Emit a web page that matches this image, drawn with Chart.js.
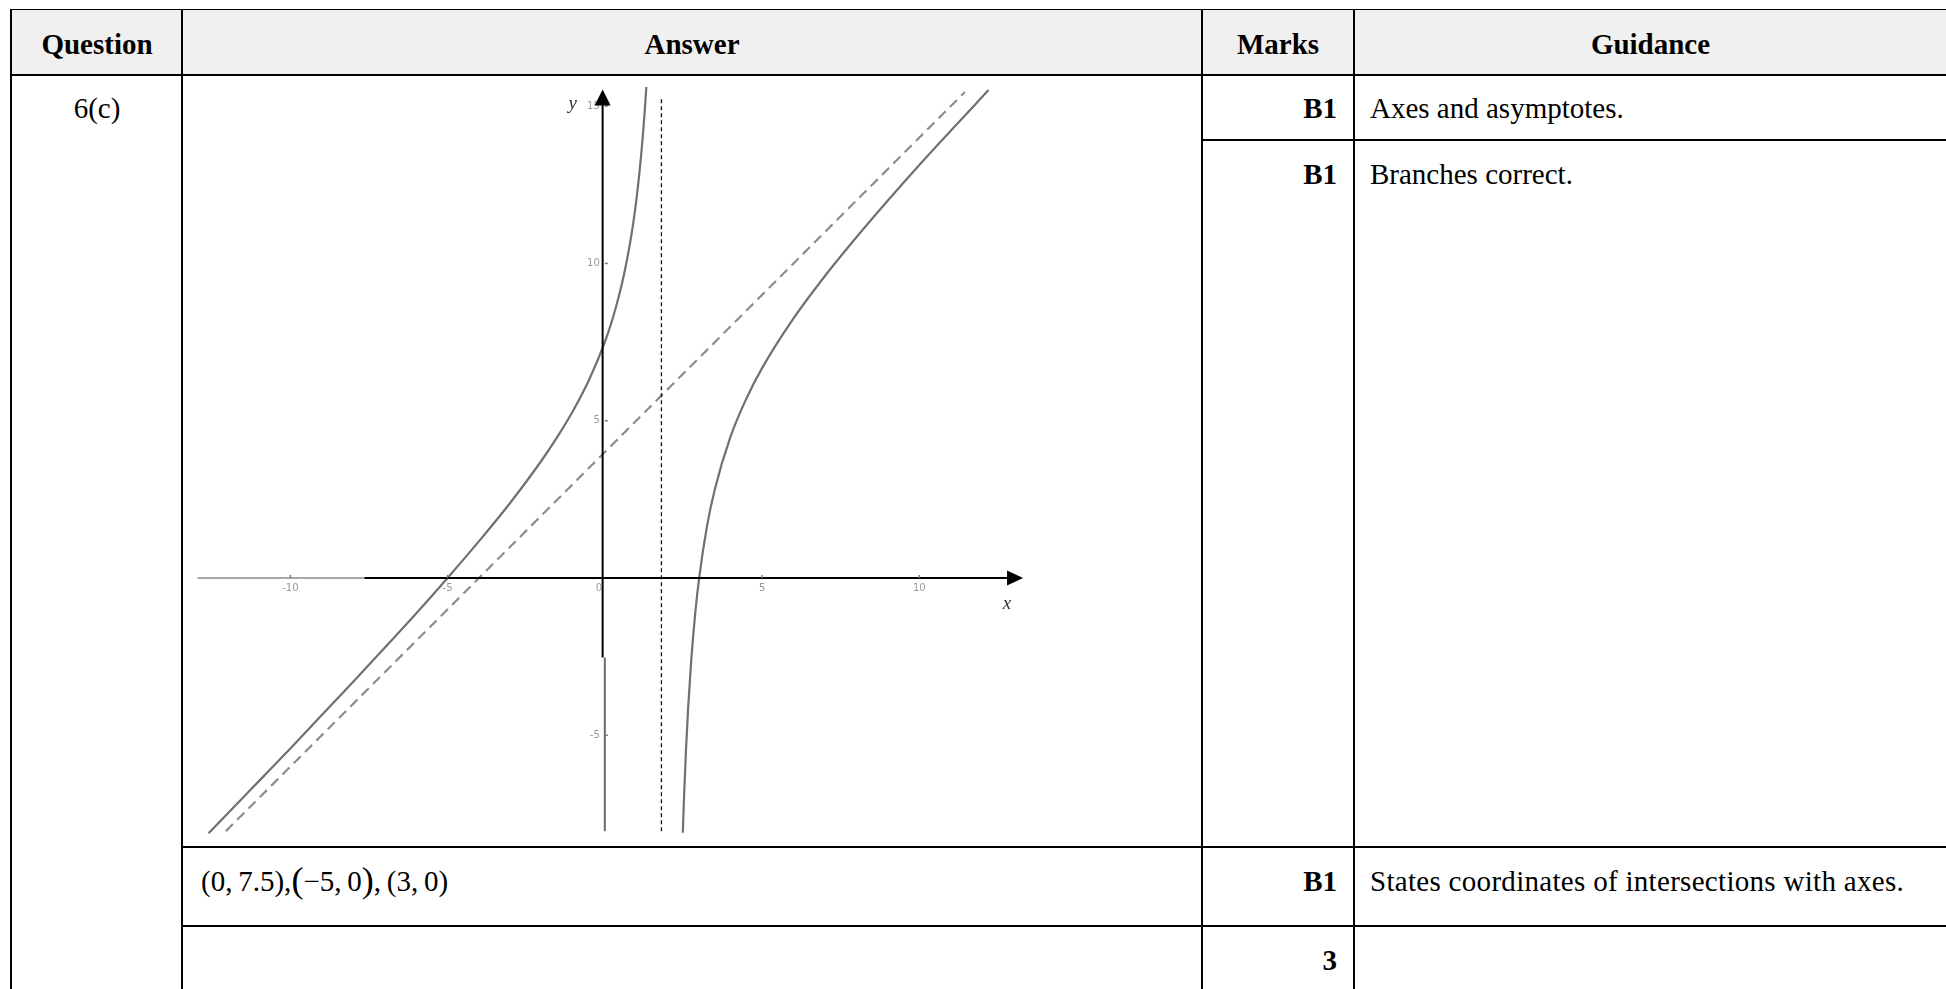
<!DOCTYPE html>
<html>
<head>
<meta charset="utf-8">
<script src="https://cdn.jsdelivr.net/npm/chart.js@4/dist/chart.umd.min.js"></script>
<style>
  html, body { margin: 0; padding: 0; background: #fff; }
  body { width: 1946px; height: 989px; position: relative; overflow: hidden;
         font-family: "Liberation Serif", "Times New Roman", serif; color: #000; }
  .ln { position: absolute; background: #000; }
  .hdr { position: absolute; left: 12px; top: 10px; width: 1934px; height: 64px; background: #f0f0f0; }
  .t { position: absolute; font-size: 29px; line-height: 32px; white-space: nowrap; }
  .b { font-weight: bold; }
  .c { text-align: center; }
  .r { text-align: right; }
  .big { font-size: 36px; line-height: 20px; position: relative; top: 1px; }
  #graph { position: absolute; left: 196px; top: 81px; }
</style>
</head>
<body>
<div class="hdr"></div>

<!-- lignes du tableau -->
<div class="ln" style="left:10px;top:9px;width:1936px;height:1px"></div>
<div class="ln" style="left:10px;top:74px;width:1936px;height:2px"></div>
<div class="ln" style="left:10px;top:9px;width:2px;height:980px"></div>
<div class="ln" style="left:181px;top:9px;width:2px;height:980px"></div>
<div class="ln" style="left:1201px;top:9px;width:2px;height:980px"></div>
<div class="ln" style="left:1353px;top:9px;width:2px;height:980px"></div>
<div class="ln" style="left:1201px;top:139px;width:745px;height:2px"></div>
<div class="ln" style="left:181px;top:846px;width:1765px;height:2px"></div>
<div class="ln" style="left:181px;top:925px;width:1765px;height:2px"></div>

<!-- en-tête -->
<div class="t b c" style="left:12px;width:170px;top:28px">Question</div>
<div class="t b c" style="left:183px;width:1018px;top:28px">Answer</div>
<div class="t b c" style="left:1203px;width:150px;top:28px">Marks</div>
<div class="t b c" style="left:1355px;width:591px;top:28px">Guidance</div>

<!-- lignes -->
<div class="t c" style="left:12px;width:170px;top:92px">6(c)</div>

<div class="t b r" style="left:1203px;width:134px;top:92px">B1</div>
<div class="t" style="left:1370px;top:92px">Axes and asymptotes.</div>

<div class="t b r" style="left:1203px;width:134px;top:158px">B1</div>
<div class="t" style="left:1370px;top:158px">Branches correct.</div>

<div class="t" style="left:201px;top:865px">(0,&#8201;7.5),<span class="big">(</span>&minus;5,&#8201;0<span class="big">)</span>,&#8201;(3,&#8201;0)</div>
<div class="t b r" style="left:1203px;width:134px;top:865px">B1</div>
<div class="t" style="left:1370px;top:865px;letter-spacing:0.3px">States coordinates of intersections with axes.</div>

<div class="t b r" style="left:1203px;width:134px;top:944px">3</div>

<canvas id="graph" width="834" height="758"></canvas>

<script>
// valeurs
const xTickValues = [-10, -5, 0, 5, 10];
const yTickValues = [-5, 5, 10, 15];

const leftBranchX = [-12.6, -12, -11, -10, -9, -8, -7, -6, -5, -4, -3, -2, -1.5, -1, -0.5, 0, 0.25, 0.5, 0.65, 0.8, 0.9, 1, 1.1, 1.2, 1.27, 1.32];
const leftBranchY = [-8.12, -7.5, -6.46, -5.42, -4.36, -3.3, -2.22, -1.13, 0, 1.17, 2.4, 3.75, 4.5, 5.33, 6.3, 7.5, 8.25, 9.17, 9.84, 10.63, 11.26, 12, 12.88, 13.95, 14.86, 15.61];

const rightBranchX = [2.48, 2.52, 2.58, 2.65, 2.75, 2.88, 3, 3.25, 3.5, 4, 4.5, 5, 6, 7, 8, 9, 10, 11, 12.2];
const rightBranchY = [-8.1, -6.94, -5.49, -4.12, -2.58, -1.07, 0, 1.65, 2.83, 4.5, 5.7, 6.67, 8.25, 9.6, 10.83, 12, 13.13, 14.22, 15.51];

const obliqueX = [-12.05, 11.45];
const obliqueY = [-8.05, 15.45];

const verticalX = [1.8, 1.8];
const verticalY = [-8.05, 15.27];

const grayAxisX = [-12.95, 12.9];
const blackAxisX = [-7.64, 12.9];
const xArrowTip = 13.3;
const yAxisShift = -0.07;
const blackAxisY = [-2.53, 15.1];
const grayAxisY = [-8.05, -2.53];
const yArrowTip = 15.53;

const toPoints = (xs, ys) => xs.map((x, i) => ({ x: x, y: ys[i] }));

const line = (xs, ys, color, width, dash, smooth) => ({
    data: toPoints(xs, ys),
    showLine: true,
    borderColor: color,
    borderWidth: width,
    borderDash: dash || [],
    pointRadius: 0,
    cubicInterpolationMode: smooth ? 'monotone' : 'default',
    tension: 0
});

// flèches, graduations et noms des axes
const graphDecor = {
    id: 'graphDecor',
    afterDatasetsDraw(chart) {
        const ctx = chart.ctx;
        const sx = chart.scales.x;
        const sy = chart.scales.y;
        const x0 = sx.getPixelForValue(0);
        const y0 = sy.getPixelForValue(0);
        const yAxisPx = sx.getPixelForValue(yAxisShift);
        ctx.save();

        // graduations
        ctx.strokeStyle = '#7a7a7a';
        ctx.lineWidth = 1.5;
        ctx.fillStyle = '#999';
        ctx.font = '10px "DejaVu Sans", sans-serif';
        ctx.textAlign = 'center';
        ctx.textBaseline = 'middle';
        xTickValues.forEach(v => {
            const px = sx.getPixelForValue(v);
            if (v !== 0) {
                ctx.beginPath();
                ctx.moveTo(px, y0 - 3);
                ctx.lineTo(px, y0);
                ctx.stroke();
                ctx.fillText(String(v), px, y0 + 10);
            } else {
                ctx.fillText('0', px - 6, y0 + 10);
            }
        });
        ctx.textAlign = 'right';
        yTickValues.forEach(v => {
            const py = sy.getPixelForValue(v);
            ctx.beginPath();
            ctx.moveTo(x0, py);
            ctx.lineTo(x0 + 3, py);
            ctx.stroke();
            ctx.fillText(String(v), x0 - 5, py);
        });

        // pointes de flèche
        ctx.fillStyle = '#000';
        const tx = sx.getPixelForValue(xArrowTip);
        ctx.beginPath();
        ctx.moveTo(tx, y0);
        ctx.lineTo(tx - 16, y0 - 7.5);
        ctx.lineTo(tx - 16, y0 + 7.5);
        ctx.closePath();
        ctx.fill();

        const ty = sy.getPixelForValue(yArrowTip);
        ctx.beginPath();
        ctx.moveTo(yAxisPx, ty);
        ctx.lineTo(yAxisPx - 8, ty + 16);
        ctx.lineTo(yAxisPx + 8, ty + 16);
        ctx.closePath();
        ctx.fill();

        // noms des axes
        ctx.fillStyle = '#333';
        ctx.font = 'italic 19px "Liberation Serif", serif';
        ctx.textAlign = 'center';
        ctx.fillText('y', yAxisPx - 30, ty + 15);
        ctx.fillText('x', tx - 16, y0 + 26);

        ctx.restore();
    }
};

// le premier jeu de données est dessiné au-dessus des autres
new Chart(document.getElementById('graph'), {
    type: 'scatter',
    data: {
        datasets: [
            line([yAxisShift, yAxisShift], blackAxisY, '#000', 2),
            line(blackAxisX, [0, 0], '#000', 2),
            line(rightBranchX, rightBranchY, '#707070', 2.2, null, true),
            line(leftBranchX, leftBranchY, '#707070', 2.2, null, true),
            line(verticalX, verticalY, '#111', 1.3, [4, 3]),
            line(obliqueX, obliqueY, '#8e8e8e', 2.2, [10, 6]),
            line([0, 0], grayAxisY, '#6a6a6a', 2),
            line(grayAxisX, [0, 0], '#a8a8a8', 2)
        ]
    },
    options: {
        responsive: false,
        animation: false,
        devicePixelRatio: 1,
        layout: { padding: 0 },
        plugins: { legend: { display: false }, tooltip: { enabled: false } },
        scales: {
            x: { type: 'linear', min: -13, max: 13.52, display: false },
            y: { type: 'linear', min: -8.3, max: 15.8, display: false }
        }
    },
    plugins: [graphDecor]
});
</script>
</body>
</html>
